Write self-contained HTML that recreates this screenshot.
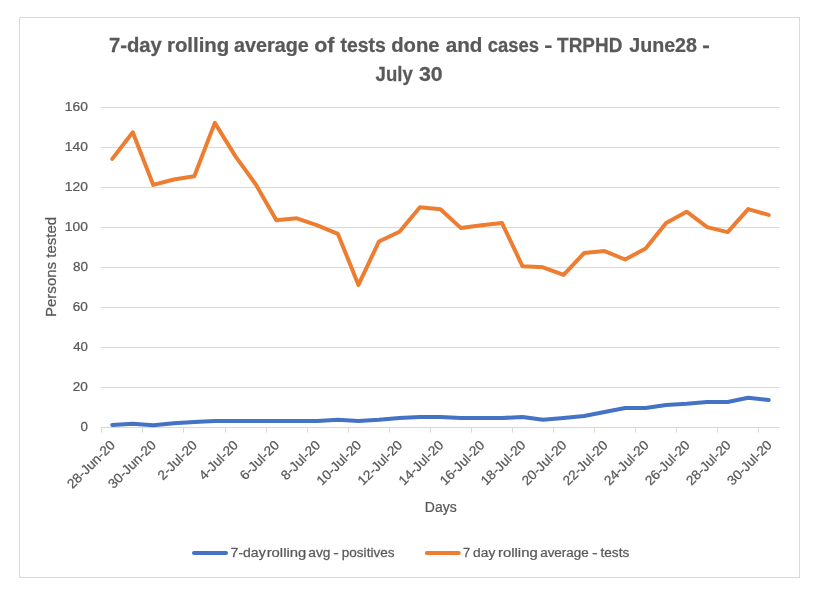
<!DOCTYPE html><html><head><meta charset="utf-8"><title>chart</title><style>html,body{margin:0;padding:0;background:#fff;overflow:hidden}svg{display:block;will-change:transform}text{font-family:"Liberation Sans",sans-serif;fill:#595959;stroke:#595959;stroke-width:0.25px}</style></head><body>
<svg width="825" height="599" viewBox="0 0 825 599">
<rect x="0" y="0" width="825" height="599" fill="#fff"/>
<rect x="19.5" y="17.5" width="780" height="560" fill="#fff" stroke="#D9D9D9" stroke-width="1"/>
<line x1="101" y1="427.5" x2="779.6" y2="427.5" stroke="#D9D9D9" stroke-width="1"/>
<line x1="101" y1="387.5" x2="779.6" y2="387.5" stroke="#D9D9D9" stroke-width="1"/>
<line x1="101" y1="347.5" x2="779.6" y2="347.5" stroke="#D9D9D9" stroke-width="1"/>
<line x1="101" y1="307.5" x2="779.6" y2="307.5" stroke="#D9D9D9" stroke-width="1"/>
<line x1="101" y1="267.5" x2="779.6" y2="267.5" stroke="#D9D9D9" stroke-width="1"/>
<line x1="101" y1="227.5" x2="779.6" y2="227.5" stroke="#D9D9D9" stroke-width="1"/>
<line x1="101" y1="187.5" x2="779.6" y2="187.5" stroke="#D9D9D9" stroke-width="1"/>
<line x1="101" y1="147.5" x2="779.6" y2="147.5" stroke="#D9D9D9" stroke-width="1"/>
<line x1="101" y1="107.5" x2="779.6" y2="107.5" stroke="#D9D9D9" stroke-width="1"/>
<line x1="101.5" y1="427" x2="101.5" y2="432.6" stroke="#D9D9D9" stroke-width="1"/>
<line x1="142.5" y1="427" x2="142.5" y2="432.6" stroke="#D9D9D9" stroke-width="1"/>
<line x1="183.5" y1="427" x2="183.5" y2="432.6" stroke="#D9D9D9" stroke-width="1"/>
<line x1="225.5" y1="427" x2="225.5" y2="432.6" stroke="#D9D9D9" stroke-width="1"/>
<line x1="266.5" y1="427" x2="266.5" y2="432.6" stroke="#D9D9D9" stroke-width="1"/>
<line x1="307.5" y1="427" x2="307.5" y2="432.6" stroke="#D9D9D9" stroke-width="1"/>
<line x1="348.5" y1="427" x2="348.5" y2="432.6" stroke="#D9D9D9" stroke-width="1"/>
<line x1="389.5" y1="427" x2="389.5" y2="432.6" stroke="#D9D9D9" stroke-width="1"/>
<line x1="430.5" y1="427" x2="430.5" y2="432.6" stroke="#D9D9D9" stroke-width="1"/>
<line x1="471.5" y1="427" x2="471.5" y2="432.6" stroke="#D9D9D9" stroke-width="1"/>
<line x1="512.5" y1="427" x2="512.5" y2="432.6" stroke="#D9D9D9" stroke-width="1"/>
<line x1="553.5" y1="427" x2="553.5" y2="432.6" stroke="#D9D9D9" stroke-width="1"/>
<line x1="594.5" y1="427" x2="594.5" y2="432.6" stroke="#D9D9D9" stroke-width="1"/>
<line x1="635.5" y1="427" x2="635.5" y2="432.6" stroke="#D9D9D9" stroke-width="1"/>
<line x1="676.5" y1="427" x2="676.5" y2="432.6" stroke="#D9D9D9" stroke-width="1"/>
<line x1="717.5" y1="427" x2="717.5" y2="432.6" stroke="#D9D9D9" stroke-width="1"/>
<line x1="758.5" y1="427" x2="758.5" y2="432.6" stroke="#D9D9D9" stroke-width="1"/>
<polyline points="112.26,424.93 132.77,423.79 153.28,425.21 173.80,423.21 194.31,422.07 214.83,420.93 235.34,420.93 255.85,420.93 276.37,420.93 296.88,420.93 317.40,420.93 337.91,419.79 358.43,420.93 378.94,419.79 399.45,418.07 419.97,416.93 440.48,416.93 461.00,418.07 481.51,418.07 502.02,418.07 522.54,416.93 543.05,419.79 563.57,418.07 584.08,416.07 604.59,412.07 625.11,408.07 645.62,408.07 666.13,404.93 686.65,403.79 707.16,402.07 727.68,402.07 748.19,397.79 768.70,400.07" fill="none" stroke="#4472C4" stroke-width="4" stroke-linecap="round" stroke-linejoin="round"/>
<polyline points="112.26,158.90 132.77,132.30 153.28,184.90 173.80,179.50 194.31,176.30 214.83,122.90 235.34,156.10 255.85,184.50 276.37,220.30 296.88,218.30 317.40,225.30 337.91,233.90 358.43,284.90 378.94,241.50 399.45,231.70 419.97,207.30 440.48,209.30 461.00,228.10 481.51,225.30 502.02,223.10 522.54,266.30 543.05,267.30 563.57,274.90 584.08,253.10 604.59,251.10 625.11,259.50 645.62,248.50 666.13,223.10 686.65,211.70 707.16,227.10 727.68,232.10 748.19,209.10 768.70,214.90" fill="none" stroke="#ED7D31" stroke-width="4" stroke-linecap="round" stroke-linejoin="round"/>
<text transform="translate(108.89,51.70) scale(1.0239,1)" font-size="19.80" font-weight="bold" stroke="none">7-day</text>
<text transform="translate(166.97,51.70) scale(1.0308,1)" font-size="19.80" font-weight="bold" stroke="none">rolling</text>
<text transform="translate(233.90,51.70) scale(1.0019,1)" font-size="19.80" font-weight="bold" stroke="none">average</text>
<text transform="translate(314.14,51.70) scale(1.0826,1)" font-size="19.80" font-weight="bold" stroke="none">of</text>
<text transform="translate(340.41,51.70) scale(0.9814,1)" font-size="19.80" font-weight="bold" stroke="none">tests</text>
<text transform="translate(391.19,51.70) scale(1.0232,1)" font-size="19.80" font-weight="bold" stroke="none">done</text>
<text transform="translate(445.68,51.70) scale(1.0432,1)" font-size="19.80" font-weight="bold" stroke="none">and</text>
<text transform="translate(487.66,51.70) scale(0.9334,1)" font-size="19.80" font-weight="bold" stroke="none">cases</text>
<text transform="translate(544.33,51.70) scale(1.2280,1)" font-size="19.80" font-weight="bold" stroke="none">-</text>
<text transform="translate(557.11,51.70) scale(0.9565,1)" font-size="19.80" font-weight="bold" stroke="none">TRPHD</text>
<text transform="translate(629.20,51.70) scale(0.9938,1)" font-size="19.80" font-weight="bold" stroke="none">June28</text>
<text transform="translate(702.29,51.70) scale(1.1487,1)" font-size="19.80" font-weight="bold" stroke="none">-</text>
<text transform="translate(375.62,80.70) scale(0.9387,1)" font-size="19.80" font-weight="bold" stroke="none">July</text>
<text transform="translate(418.97,80.70) scale(1.0778,1)" font-size="19.80" font-weight="bold" stroke="none">30</text>
<text transform="translate(80.47,431.10) scale(1.0178,1)" font-size="13.10">0</text>
<text transform="translate(72.82,391.10) scale(1.0352,1)" font-size="13.10">20</text>
<text transform="translate(73.24,351.10) scale(1.0058,1)" font-size="13.10">40</text>
<text transform="translate(72.82,311.10) scale(1.0352,1)" font-size="13.10">60</text>
<text transform="translate(72.89,271.10) scale(1.0302,1)" font-size="13.10">80</text>
<text transform="translate(64.86,231.10) scale(1.0554,1)" font-size="13.10">100</text>
<text transform="translate(64.86,191.10) scale(1.0554,1)" font-size="13.10">120</text>
<text transform="translate(64.86,151.10) scale(1.0554,1)" font-size="13.10">140</text>
<text transform="translate(64.86,111.10) scale(1.0554,1)" font-size="13.10">160</text>
<text transform="translate(115.77,445.90) rotate(-45) scale(1.0250,1)" font-size="13.30" text-anchor="end">28-Jun-20</text>
<text transform="translate(156.82,445.90) rotate(-45) scale(1.0250,1)" font-size="13.30" text-anchor="end">30-Jun-20</text>
<text transform="translate(197.88,445.90) rotate(-45) scale(1.0250,1)" font-size="13.30" text-anchor="end">2-Jul-20</text>
<text transform="translate(238.94,445.90) rotate(-45) scale(1.0250,1)" font-size="13.30" text-anchor="end">4-Jul-20</text>
<text transform="translate(280.00,445.90) rotate(-45) scale(1.0250,1)" font-size="13.30" text-anchor="end">6-Jul-20</text>
<text transform="translate(321.06,445.90) rotate(-45) scale(1.0250,1)" font-size="13.30" text-anchor="end">8-Jul-20</text>
<text transform="translate(362.12,445.90) rotate(-45) scale(1.0250,1)" font-size="13.30" text-anchor="end">10-Jul-20</text>
<text transform="translate(403.19,445.90) rotate(-45) scale(1.0250,1)" font-size="13.30" text-anchor="end">12-Jul-20</text>
<text transform="translate(444.25,445.90) rotate(-45) scale(1.0250,1)" font-size="13.30" text-anchor="end">14-Jul-20</text>
<text transform="translate(485.31,445.90) rotate(-45) scale(1.0250,1)" font-size="13.30" text-anchor="end">16-Jul-20</text>
<text transform="translate(526.37,445.90) rotate(-45) scale(1.0250,1)" font-size="13.30" text-anchor="end">18-Jul-20</text>
<text transform="translate(567.42,445.90) rotate(-45) scale(1.0250,1)" font-size="13.30" text-anchor="end">20-Jul-20</text>
<text transform="translate(608.49,445.90) rotate(-45) scale(1.0250,1)" font-size="13.30" text-anchor="end">22-Jul-20</text>
<text transform="translate(649.55,445.90) rotate(-45) scale(1.0250,1)" font-size="13.30" text-anchor="end">24-Jul-20</text>
<text transform="translate(690.61,445.90) rotate(-45) scale(1.0250,1)" font-size="13.30" text-anchor="end">26-Jul-20</text>
<text transform="translate(731.67,445.90) rotate(-45) scale(1.0250,1)" font-size="13.30" text-anchor="end">28-Jul-20</text>
<text transform="translate(772.73,445.90) rotate(-45) scale(1.0250,1)" font-size="13.30" text-anchor="end">30-Jul-20</text>
<text transform="translate(424.78,512.20) scale(0.9586,1)" font-size="14.60">Days</text>
<text transform="translate(55.6,317.00) rotate(-90) scale(0.9700,1)" font-size="15.50">Persons tested</text>
<line x1="194" y1="552.9" x2="226" y2="552.9" stroke="#4472C4" stroke-width="4" stroke-linecap="round"/>
<line x1="426.8" y1="552.9" x2="458.8" y2="552.9" stroke="#ED7D31" stroke-width="4" stroke-linecap="round"/>
<text transform="translate(230.60,556.80) scale(1.0557,1)" font-size="13.30">7-day</text>
<text transform="translate(266.63,556.80) scale(1.1182,1)" font-size="13.30">rolling</text>
<text transform="translate(308.35,556.80) scale(1.0341,1)" font-size="13.30">avg</text>
<text transform="translate(333.15,556.80) scale(1.2582,1)" font-size="13.30">-</text>
<text transform="translate(341.82,556.80) scale(1.0177,1)" font-size="13.30">positives</text>
<text transform="translate(463.06,556.80) scale(0.9584,1)" font-size="13.30">7</text>
<text transform="translate(473.05,556.80) scale(1.0392,1)" font-size="13.30">day</text>
<text transform="translate(498.03,556.80) scale(1.1182,1)" font-size="13.30">rolling</text>
<text transform="translate(540.16,556.80) scale(1.0096,1)" font-size="13.30">average</text>
<text transform="translate(591.95,556.80) scale(1.2582,1)" font-size="13.30">-</text>
<text transform="translate(600.50,556.80) scale(1.0256,1)" font-size="13.30">tests</text>
</svg></body></html>
